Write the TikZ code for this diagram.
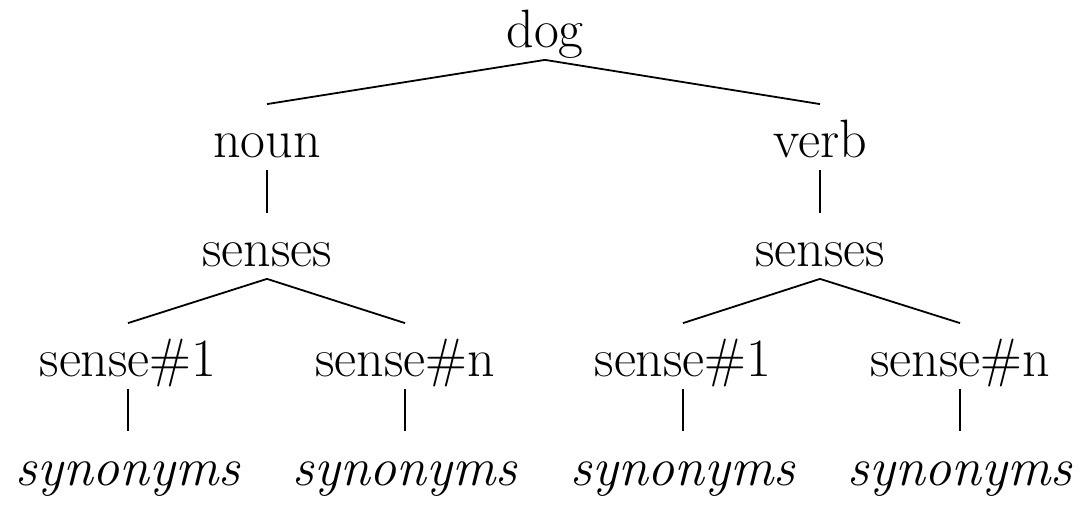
\documentclass[tikz,border=0pt]{standalone}
\usepackage{tikz}
\usetikzlibrary{positioning}

\begin{document}
\begin{tikzpicture}[
    x=0.5pt,
    y=-0.5pt,
    line width=0.9pt,
    word/.style={
        anchor=base,
        font=\fontsize{27}{32}\selectfont,
        inner xsep=0pt,
        inner ysep=5.5pt,
        text height=21pt,
        text depth=0pt
    },
    syn/.style={
        word,
        font=\fontsize{27}{32}\selectfont\itshape
    }
]
\useasboundingbox (0,0) rectangle (1080,512);

% root and parts of speech
\node[word] (dog) at (545,48) {dog};
\node[word] (noun) at (267,158) {noun};
\node[word] (verb) at (820,158) {verb};

\node[word] (nsenses) at (267,267) {senses};
\node[word] (vsenses) at (820,267) {senses};

% single senses
\node[word] (nsense1) at (128,377) {sense\#1};
\node[word] (nsensen) at (405,377) {sense\#n};
\node[word] (vsense1) at (683,377) {sense\#1};
\node[word] (vsensen) at (960,377) {sense\#n};

\node[syn] (nsyn1) at (128,485) {synonyms};
\node[syn] (nsynn) at (405,485) {synonyms};
\node[syn] (vsyn1) at (683,485) {synonyms};
\node[syn] (vsynn) at (960,485) {synonyms};

\draw (dog.south) -- (noun.north);
\draw (dog.south) -- (verb.north);
\draw (noun) -- (nsenses);
\draw (verb) -- (vsenses);

\draw (nsenses.south) -- (nsense1.north);
\draw (nsenses.south) -- (nsensen.north);
\draw (vsenses.south) -- (vsense1.north);
\draw (vsenses.south) -- (vsensen.north);

\draw (nsense1) -- (nsyn1);
\draw (nsensen) -- (nsynn);
\draw (vsense1) -- (vsyn1);
\draw (vsensen) -- (vsynn);

\end{tikzpicture}
\end{document}
